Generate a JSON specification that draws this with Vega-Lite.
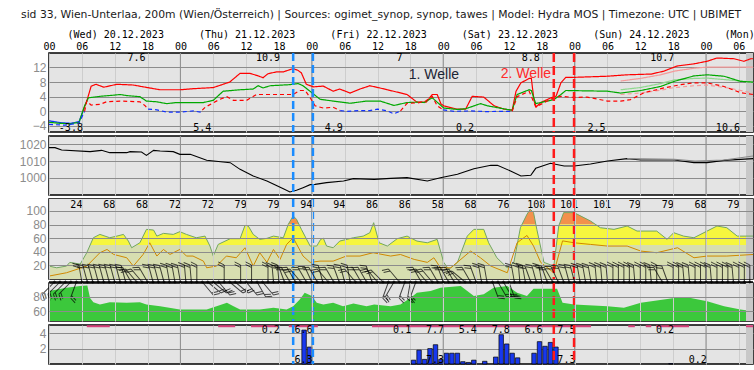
{
  "$schema": "https://vega.github.io/schema/vega-lite/v6.json",
  "autosize": {"type": "pad"},
  "padding": {"left": 18, "top": 8, "right": 0, "bottom": 0},
  "background": "#ffffff",
  "title": {
    "text": "sid 33, Wien-Unterlaa, 200m (Wien/Österreich) | Sources: ogimet_synop, synop, tawes | Model: Hydra MOS | Timezone: UTC | UBIMET",
    "anchor": "start", "frame": "group", "dx": -28, "offset": 10,
    "font": "DejaVu Sans", "fontSize": 10.8, "fontWeight": "normal", "color": "#1a1a1a"
  },
  "resolve": {"scale": {"color": "independent", "strokeDash": "independent"}},
  "config": {
    "view": {"fill": "#e4e4e4", "stroke": "#000000", "strokeWidth": 1.5},
    "legend": {"disable": true},
    "axis": {"labelOverlap": false, "labelSeparation": 0},
    "text": {"font": "DejaVu Sans Mono", "fontSize": 10, "color": "#000000"}
  },
  "spacing": 4,
  "bounds": "flush",
  "datasets": {
    "strip": [{"t": "2023-12-25T07:18Z", "t2": "2023-12-25T08:35Z"}],
    "days": [{"t": "2023-12-21T00:00Z"}, {"t": "2023-12-22T00:00Z"}, {"t": "2023-12-23T00:00Z"}, {"t": "2023-12-24T00:00Z"}, {"t": "2023-12-25T00:00Z"}],
    "ann": [
      {"t": "2023-12-21T20:36Z", "wave": "1"}, {"t": "2023-12-22T00:12Z", "wave": "1"},
      {"t": "2023-12-23T20:12Z", "wave": "2"}, {"t": "2023-12-23T23:54Z", "wave": "2"}
    ],
    "welle": [
      {"t": "2023-12-22T22:18Z", "label": "1. Welle", "wave": "1"},
      {"t": "2023-12-23T15:06Z", "label": "2. Welle", "wave": "2"}
    ],
    "tlab": [
      {"t": "2023-12-20T16:00Z", "label": "7.6", "kind": "max"},
      {"t": "2023-12-21T16:00Z", "label": "10.9", "kind": "max"},
      {"t": "2023-12-22T16:00Z", "label": "7", "kind": "max"},
      {"t": "2023-12-23T16:00Z", "label": "8.8", "kind": "max"},
      {"t": "2023-12-24T16:00Z", "label": "10.7", "kind": "max"},
      {"t": "2023-12-20T04:00Z", "label": "-3.8", "kind": "min"},
      {"t": "2023-12-21T04:00Z", "label": "5.4", "kind": "min"},
      {"t": "2023-12-22T04:00Z", "label": "4.9", "kind": "min"},
      {"t": "2023-12-23T04:00Z", "label": "0.2", "kind": "min"},
      {"t": "2023-12-24T04:00Z", "label": "2.5", "kind": "min"},
      {"t": "2023-12-25T04:00Z", "label": "10.6", "kind": "min"}
    ],
    "temp": [
      {"t": "2023-12-20T00:00Z", "v": -2.6, "k": "T<0", "g": "T1"},
      {"t": "2023-12-20T02:00Z", "v": -3.1, "k": "T<0", "g": "T1"},
      {"t": "2023-12-20T04:00Z", "v": -3.3, "k": "T<0", "g": "T1"},
      {"t": "2023-12-20T05:30Z", "v": -2.8, "k": "T<0", "g": "T1"},
      {"t": "2023-12-20T06:12Z", "v": 0, "k": "T<0", "g": "T1"},
      {"t": "2023-12-20T06:12Z", "v": 0, "k": "T", "g": "T2"},
      {"t": "2023-12-20T06:54Z", "v": 2.8, "k": "T", "g": "T2"},
      {"t": "2023-12-20T07:42Z", "v": 6.9, "k": "T", "g": "T2"},
      {"t": "2023-12-20T08:36Z", "v": 7.4, "k": "T", "g": "T2"},
      {"t": "2023-12-20T10:00Z", "v": 6.6, "k": "T", "g": "T2"},
      {"t": "2023-12-20T12:24Z", "v": 7.4, "k": "T", "g": "T2"},
      {"t": "2023-12-20T15:24Z", "v": 7.2, "k": "T", "g": "T2"},
      {"t": "2023-12-20T17:12Z", "v": 6.7, "k": "T", "g": "T2"},
      {"t": "2023-12-20T20:18Z", "v": 5.9, "k": "T", "g": "T2"},
      {"t": "2023-12-21T00:00Z", "v": 5.9, "k": "T", "g": "T2"},
      {"t": "2023-12-21T02:24Z", "v": 6.2, "k": "T", "g": "T2"},
      {"t": "2023-12-21T06:00Z", "v": 6.5, "k": "T", "g": "T2"},
      {"t": "2023-12-21T07:48Z", "v": 7.4, "k": "T", "g": "T2"},
      {"t": "2023-12-21T09:00Z", "v": 8.0, "k": "T", "g": "T2"},
      {"t": "2023-12-21T10:54Z", "v": 10.4, "k": "T", "g": "T2"},
      {"t": "2023-12-21T12:42Z", "v": 10.4, "k": "T", "g": "T2"},
      {"t": "2023-12-21T14:12Z", "v": 9.7, "k": "T", "g": "T2"},
      {"t": "2023-12-21T15:06Z", "v": 9.2, "k": "T", "g": "T2"},
      {"t": "2023-12-21T16:00Z", "v": 10.3, "k": "T", "g": "T2"},
      {"t": "2023-12-21T17:36Z", "v": 10.8, "k": "T", "g": "T2"},
      {"t": "2023-12-21T18:48Z", "v": 10.8, "k": "T", "g": "T2"},
      {"t": "2023-12-21T20:36Z", "v": 11.7, "k": "T", "g": "T2"},
      {"t": "2023-12-21T21:30Z", "v": 11.2, "k": "T", "g": "T2"},
      {"t": "2023-12-21T22:06Z", "v": 10.5, "k": "T", "g": "T2"},
      {"t": "2023-12-21T23:00Z", "v": 7.4, "k": "T", "g": "T2"},
      {"t": "2023-12-22T00:18Z", "v": 6.7, "k": "T", "g": "T2"},
      {"t": "2023-12-22T02:06Z", "v": 6.9, "k": "T", "g": "T2"},
      {"t": "2023-12-22T03:54Z", "v": 5.5, "k": "T", "g": "T2"},
      {"t": "2023-12-22T05:06Z", "v": 6.1, "k": "T", "g": "T2"},
      {"t": "2023-12-22T07:00Z", "v": 5.0, "k": "T", "g": "T2"},
      {"t": "2023-12-22T08:48Z", "v": 6.1, "k": "T", "g": "T2"},
      {"t": "2023-12-22T10:36Z", "v": 7.0, "k": "T", "g": "T2"},
      {"t": "2023-12-22T12:24Z", "v": 6.4, "k": "T", "g": "T2"},
      {"t": "2023-12-22T13:48Z", "v": 5.9, "k": "T", "g": "T2"},
      {"t": "2023-12-22T17:24Z", "v": 4.6, "k": "T", "g": "T2"},
      {"t": "2023-12-22T19:12Z", "v": 2.5, "k": "T", "g": "T2"},
      {"t": "2023-12-22T20:54Z", "v": 2.5, "k": "T", "g": "T2"},
      {"t": "2023-12-22T22:00Z", "v": 4.6, "k": "T", "g": "T2"},
      {"t": "2023-12-22T22:54Z", "v": 4.6, "k": "T", "g": "T2"},
      {"t": "2023-12-22T23:36Z", "v": 2.0, "k": "T", "g": "T2"},
      {"t": "2023-12-23T00:06Z", "v": 1.5, "k": "T", "g": "T2"},
      {"t": "2023-12-23T02:30Z", "v": 0.6, "k": "T", "g": "T2"},
      {"t": "2023-12-23T04:06Z", "v": 0.6, "k": "T", "g": "T2"},
      {"t": "2023-12-23T05:18Z", "v": 4.1, "k": "T", "g": "T2"},
      {"t": "2023-12-23T07:24Z", "v": 3.9, "k": "T", "g": "T2"},
      {"t": "2023-12-23T09:18Z", "v": 1.5, "k": "T", "g": "T2"},
      {"t": "2023-12-23T11:06Z", "v": 0.6, "k": "T", "g": "T2"},
      {"t": "2023-12-23T12:36Z", "v": 0.3, "k": "T", "g": "T2"},
      {"t": "2023-12-23T13:18Z", "v": 5.5, "k": "T", "g": "T2"},
      {"t": "2023-12-23T14:12Z", "v": 7.8, "k": "T", "g": "T2"},
      {"t": "2023-12-23T15:42Z", "v": 9.0, "k": "T", "g": "T2"},
      {"t": "2023-12-23T16:06Z", "v": 9.0, "k": "T", "g": "T2"},
      {"t": "2023-12-23T16:36Z", "v": 2.8, "k": "T", "g": "T2"},
      {"t": "2023-12-23T17:00Z", "v": 1.2, "k": "T", "g": "T2"},
      {"t": "2023-12-23T17:48Z", "v": 2.4, "k": "T", "g": "T2"},
      {"t": "2023-12-23T19:42Z", "v": 3.7, "k": "T", "g": "T2"},
      {"t": "2023-12-23T20:36Z", "v": 4.1, "k": "T", "g": "T2"},
      {"t": "2023-12-23T21:30Z", "v": 7.8, "k": "T", "g": "T2"},
      {"t": "2023-12-23T22:24Z", "v": 9.3, "k": "T", "g": "T2"},
      {"t": "2023-12-23T23:54Z", "v": 9.3, "k": "T", "g": "T2"},
      {"t": "2023-12-24T05:54Z", "v": 9.6, "k": "T", "g": "T2"},
      {"t": "2023-12-24T09:36Z", "v": 10.0, "k": "T", "g": "T2"},
      {"t": "2023-12-24T14:00Z", "v": 10.2, "k": "T", "g": "T2"},
      {"t": "2023-12-24T16:18Z", "v": 11.0, "k": "T", "g": "T2"},
      {"t": "2023-12-24T18:42Z", "v": 12.4, "k": "T", "g": "T2"},
      {"t": "2023-12-24T21:48Z", "v": 13.0, "k": "T", "g": "T2"},
      {"t": "2023-12-25T00:12Z", "v": 13.7, "k": "T", "g": "T2"},
      {"t": "2023-12-25T02:00Z", "v": 14.6, "k": "T", "g": "T2"},
      {"t": "2023-12-25T05:06Z", "v": 14.4, "k": "T", "g": "T2"},
      {"t": "2023-12-25T06:54Z", "v": 13.7, "k": "T", "g": "T2"},
      {"t": "2023-12-25T08:12Z", "v": 14.4, "k": "T", "g": "T2"},
      {"t": "2023-12-25T08:35Z", "v": 14.4, "k": "T", "g": "T2"},
      {"t": "2023-12-20T00:00Z", "v": -3.0, "k": "Td", "g": "D"},
      {"t": "2023-12-20T02:00Z", "v": -3.3, "k": "Td", "g": "D"},
      {"t": "2023-12-20T04:00Z", "v": -3.4, "k": "Td", "g": "D"},
      {"t": "2023-12-20T05:30Z", "v": -3.0, "k": "Td", "g": "D"},
      {"t": "2023-12-20T06:30Z", "v": 1.5, "k": "Td", "g": "D"},
      {"t": "2023-12-20T07:12Z", "v": 3.7, "k": "Td", "g": "D"},
      {"t": "2023-12-20T09:18Z", "v": 4.1, "k": "Td", "g": "D"},
      {"t": "2023-12-20T11:42Z", "v": 4.4, "k": "Td", "g": "D"},
      {"t": "2023-12-20T13:00Z", "v": 4.6, "k": "Td", "g": "D"},
      {"t": "2023-12-20T14:12Z", "v": 4.3, "k": "Td", "g": "D"},
      {"t": "2023-12-20T16:36Z", "v": 4.0, "k": "Td", "g": "D"},
      {"t": "2023-12-20T17:48Z", "v": 2.8, "k": "Td", "g": "D"},
      {"t": "2023-12-20T19:42Z", "v": 2.6, "k": "Td", "g": "D"},
      {"t": "2023-12-20T21:30Z", "v": 2.1, "k": "Td", "g": "D"},
      {"t": "2023-12-20T23:18Z", "v": 2.4, "k": "Td", "g": "D"},
      {"t": "2023-12-21T04:12Z", "v": 2.4, "k": "Td", "g": "D"},
      {"t": "2023-12-21T06:00Z", "v": 3.0, "k": "Td", "g": "D"},
      {"t": "2023-12-21T07:48Z", "v": 5.5, "k": "Td", "g": "D"},
      {"t": "2023-12-21T10:54Z", "v": 5.9, "k": "Td", "g": "D"},
      {"t": "2023-12-21T13:18Z", "v": 6.1, "k": "Td", "g": "D"},
      {"t": "2023-12-21T14:12Z", "v": 7.0, "k": "Td", "g": "D"},
      {"t": "2023-12-21T15:06Z", "v": 6.4, "k": "Td", "g": "D"},
      {"t": "2023-12-21T16:24Z", "v": 7.0, "k": "Td", "g": "D"},
      {"t": "2023-12-21T20:00Z", "v": 7.3, "k": "Td", "g": "D"},
      {"t": "2023-12-21T21:30Z", "v": 7.6, "k": "Td", "g": "D"},
      {"t": "2023-12-21T22:24Z", "v": 7.0, "k": "Td", "g": "D"},
      {"t": "2023-12-22T00:00Z", "v": 5.1, "k": "Td", "g": "D"},
      {"t": "2023-12-22T01:30Z", "v": 3.3, "k": "Td", "g": "D"},
      {"t": "2023-12-22T03:54Z", "v": 2.8, "k": "Td", "g": "D"},
      {"t": "2023-12-22T07:00Z", "v": 2.2, "k": "Td", "g": "D"},
      {"t": "2023-12-22T10:00Z", "v": 2.8, "k": "Td", "g": "D"},
      {"t": "2023-12-22T12:30Z", "v": 2.8, "k": "Td", "g": "D"},
      {"t": "2023-12-22T15:00Z", "v": 1.6, "k": "Td", "g": "D"},
      {"t": "2023-12-22T17:24Z", "v": 2.4, "k": "Td", "g": "D"},
      {"t": "2023-12-22T19:18Z", "v": 2.5, "k": "Td", "g": "D"},
      {"t": "2023-12-22T20:30Z", "v": 2.4, "k": "Td", "g": "D"},
      {"t": "2023-12-22T22:00Z", "v": 3.7, "k": "Td", "g": "D"},
      {"t": "2023-12-22T22:54Z", "v": 2.5, "k": "Td", "g": "D"},
      {"t": "2023-12-23T00:06Z", "v": 0.9, "k": "Td", "g": "D"},
      {"t": "2023-12-23T02:36Z", "v": 0.5, "k": "Td", "g": "D"},
      {"t": "2023-12-23T04:06Z", "v": 0.7, "k": "Td", "g": "D"},
      {"t": "2023-12-23T06:48Z", "v": 2.1, "k": "Td", "g": "D"},
      {"t": "2023-12-23T08:06Z", "v": 1.5, "k": "Td", "g": "D"},
      {"t": "2023-12-23T11:42Z", "v": 0.5, "k": "Td", "g": "D"},
      {"t": "2023-12-23T12:36Z", "v": 0.3, "k": "Td", "g": "D"},
      {"t": "2023-12-23T13:30Z", "v": 4.6, "k": "Td", "g": "D"},
      {"t": "2023-12-23T15:42Z", "v": 5.9, "k": "Td", "g": "D"},
      {"t": "2023-12-23T16:06Z", "v": 5.7, "k": "Td", "g": "D"},
      {"t": "2023-12-23T16:54Z", "v": 2.1, "k": "Td", "g": "D"},
      {"t": "2023-12-23T19:00Z", "v": 2.8, "k": "Td", "g": "D"},
      {"t": "2023-12-23T20:12Z", "v": 3.2, "k": "Td", "g": "D"},
      {"t": "2023-12-23T21:30Z", "v": 4.6, "k": "Td", "g": "D"},
      {"t": "2023-12-23T22:24Z", "v": 5.7, "k": "Td", "g": "D"},
      {"t": "2023-12-24T06:00Z", "v": 5.5, "k": "Td", "g": "D"},
      {"t": "2023-12-24T08:24Z", "v": 5.0, "k": "Td", "g": "D"},
      {"t": "2023-12-24T12:06Z", "v": 5.7, "k": "Td", "g": "D"},
      {"t": "2023-12-24T15:42Z", "v": 6.8, "k": "Td", "g": "D"},
      {"t": "2023-12-24T18:12Z", "v": 8.2, "k": "Td", "g": "D"},
      {"t": "2023-12-24T21:48Z", "v": 9.7, "k": "Td", "g": "D"},
      {"t": "2023-12-25T00:12Z", "v": 10.0, "k": "Td", "g": "D"},
      {"t": "2023-12-25T03:18Z", "v": 9.6, "k": "Td", "g": "D"},
      {"t": "2023-12-25T06:18Z", "v": 8.2, "k": "Td", "g": "D"},
      {"t": "2023-12-25T08:35Z", "v": 8.0, "k": "Td", "g": "D"},
      {"t": "2023-12-20T00:00Z", "v": -3.6, "k": "Tg<0", "g": "G1"},
      {"t": "2023-12-20T03:00Z", "v": -3.8, "k": "Tg<0", "g": "G1"},
      {"t": "2023-12-20T05:30Z", "v": -3.2, "k": "Tg<0", "g": "G1"},
      {"t": "2023-12-20T06:30Z", "v": 0, "k": "Tg<0", "g": "G1"},
      {"t": "2023-12-20T06:30Z", "v": 0, "k": "Tg", "g": "G2"},
      {"t": "2023-12-20T06:54Z", "v": 2.8, "k": "Tg", "g": "G2"},
      {"t": "2023-12-20T07:42Z", "v": 1.7, "k": "Tg", "g": "G2"},
      {"t": "2023-12-20T09:18Z", "v": 1.9, "k": "Tg", "g": "G2"},
      {"t": "2023-12-20T10:30Z", "v": 2.6, "k": "Tg", "g": "G2"},
      {"t": "2023-12-20T13:00Z", "v": 2.8, "k": "Tg", "g": "G2"},
      {"t": "2023-12-20T16:36Z", "v": 2.6, "k": "Tg", "g": "G2"},
      {"t": "2023-12-20T17:30Z", "v": 1.6, "k": "Tg", "g": "G2"},
      {"t": "2023-12-20T18:06Z", "v": 0.6, "k": "Tg", "g": "G2"},
      {"t": "2023-12-20T18:06Z", "v": 0.6, "k": "Tg<0", "g": "G3"},
      {"t": "2023-12-20T19:42Z", "v": 0.4, "k": "Tg<0", "g": "G3"},
      {"t": "2023-12-20T21:30Z", "v": -0.2, "k": "Tg<0", "g": "G3"},
      {"t": "2023-12-21T00:00Z", "v": -0.2, "k": "Tg<0", "g": "G3"},
      {"t": "2023-12-21T02:24Z", "v": 0.1, "k": "Tg<0", "g": "G3"},
      {"t": "2023-12-21T03:36Z", "v": -0.2, "k": "Tg<0", "g": "G3"},
      {"t": "2023-12-21T04:00Z", "v": 0.3, "k": "Tg<0", "g": "G3"},
      {"t": "2023-12-21T04:00Z", "v": 0.3, "k": "Tg", "g": "G4"},
      {"t": "2023-12-21T04:30Z", "v": 1.1, "k": "Tg", "g": "G4"},
      {"t": "2023-12-21T07:12Z", "v": 3.3, "k": "Tg", "g": "G4"},
      {"t": "2023-12-21T08:30Z", "v": 4.0, "k": "Tg", "g": "G4"},
      {"t": "2023-12-21T09:42Z", "v": 3.0, "k": "Tg", "g": "G4"},
      {"t": "2023-12-21T12:06Z", "v": 3.0, "k": "Tg", "g": "G4"},
      {"t": "2023-12-21T13:54Z", "v": 4.6, "k": "Tg", "g": "G4"},
      {"t": "2023-12-21T20:36Z", "v": 4.6, "k": "Tg", "g": "G4"},
      {"t": "2023-12-21T21:48Z", "v": 5.7, "k": "Tg", "g": "G4"},
      {"t": "2023-12-21T22:48Z", "v": 5.7, "k": "Tg", "g": "G4"},
      {"t": "2023-12-21T23:42Z", "v": 3.7, "k": "Tg", "g": "G4"},
      {"t": "2023-12-22T00:36Z", "v": 1.5, "k": "Tg", "g": "G4"},
      {"t": "2023-12-22T02:06Z", "v": 0.9, "k": "Tg", "g": "G4"},
      {"t": "2023-12-22T03:54Z", "v": 1.1, "k": "Tg", "g": "G4"},
      {"t": "2023-12-22T05:12Z", "v": 0.2, "k": "Tg", "g": "G4"},
      {"t": "2023-12-22T05:12Z", "v": 0.2, "k": "Tg<0", "g": "G5"},
      {"t": "2023-12-22T06:24Z", "v": 0.0, "k": "Tg<0", "g": "G5"},
      {"t": "2023-12-22T08:48Z", "v": 0.2, "k": "Tg<0", "g": "G5"},
      {"t": "2023-12-22T10:36Z", "v": 0.2, "k": "Tg<0", "g": "G5"},
      {"t": "2023-12-22T12:00Z", "v": 0.6, "k": "Tg<0", "g": "G5"},
      {"t": "2023-12-22T13:48Z", "v": 0.1, "k": "Tg<0", "g": "G5"},
      {"t": "2023-12-22T15:00Z", "v": -0.7, "k": "Tg<0", "g": "G5"},
      {"t": "2023-12-22T16:12Z", "v": 0.1, "k": "Tg<0", "g": "G5"},
      {"t": "2023-12-22T16:12Z", "v": 0.1, "k": "Tg", "g": "G6"},
      {"t": "2023-12-22T17:24Z", "v": 2.2, "k": "Tg", "g": "G6"},
      {"t": "2023-12-22T19:18Z", "v": 2.3, "k": "Tg", "g": "G6"},
      {"t": "2023-12-22T20:48Z", "v": 2.8, "k": "Tg", "g": "G6"},
      {"t": "2023-12-22T22:00Z", "v": 4.1, "k": "Tg", "g": "G6"},
      {"t": "2023-12-22T22:54Z", "v": 1.5, "k": "Tg", "g": "G6"},
      {"t": "2023-12-23T00:00Z", "v": 0.4, "k": "Tg", "g": "G6"},
      {"t": "2023-12-23T00:00Z", "v": 0.4, "k": "Tg<0", "g": "G7"},
      {"t": "2023-12-23T02:00Z", "v": 0.0, "k": "Tg<0", "g": "G7"},
      {"t": "2023-12-23T05:00Z", "v": 0.1, "k": "Tg<0", "g": "G7"},
      {"t": "2023-12-23T08:00Z", "v": -0.1, "k": "Tg<0", "g": "G7"},
      {"t": "2023-12-23T10:00Z", "v": 0.0, "k": "Tg<0", "g": "G7"},
      {"t": "2023-12-23T12:36Z", "v": 0.0, "k": "Tg<0", "g": "G7"},
      {"t": "2023-12-23T12:36Z", "v": 0.0, "k": "Tg", "g": "G8"},
      {"t": "2023-12-23T13:30Z", "v": 4.0, "k": "Tg", "g": "G8"},
      {"t": "2023-12-23T15:42Z", "v": 5.5, "k": "Tg", "g": "G8"},
      {"t": "2023-12-23T16:54Z", "v": 1.2, "k": "Tg", "g": "G8"},
      {"t": "2023-12-23T19:00Z", "v": 2.8, "k": "Tg", "g": "G8"},
      {"t": "2023-12-23T20:12Z", "v": 3.7, "k": "Tg", "g": "G8"},
      {"t": "2023-12-23T21:30Z", "v": 4.1, "k": "Tg", "g": "G8"},
      {"t": "2023-12-23T23:54Z", "v": 3.8, "k": "Tg", "g": "G8"},
      {"t": "2023-12-24T02:18Z", "v": 3.9, "k": "Tg", "g": "G8"},
      {"t": "2023-12-24T06:00Z", "v": 2.8, "k": "Tg", "g": "G8"},
      {"t": "2023-12-24T08:24Z", "v": 2.8, "k": "Tg", "g": "G8"},
      {"t": "2023-12-24T10:12Z", "v": 3.2, "k": "Tg", "g": "G8"},
      {"t": "2023-12-24T12:42Z", "v": 5.1, "k": "Tg", "g": "G8"},
      {"t": "2023-12-24T16:18Z", "v": 6.4, "k": "Tg", "g": "G8"},
      {"t": "2023-12-24T19:24Z", "v": 7.3, "k": "Tg", "g": "G8"},
      {"t": "2023-12-24T21:48Z", "v": 7.8, "k": "Tg", "g": "G8"},
      {"t": "2023-12-25T00:12Z", "v": 7.8, "k": "Tg", "g": "G8"},
      {"t": "2023-12-25T03:18Z", "v": 6.8, "k": "Tg", "g": "G8"},
      {"t": "2023-12-25T06:18Z", "v": 5.1, "k": "Tg", "g": "G8"},
      {"t": "2023-12-25T08:35Z", "v": 4.6, "k": "Tg", "g": "G8"},
      {"t": "2023-12-24T08:24Z", "v": 8.3, "k": "T MOS", "g": "M1"},
      {"t": "2023-12-24T12:00Z", "v": 9.0, "k": "T MOS", "g": "M1"},
      {"t": "2023-12-24T15:42Z", "v": 10.0, "k": "T MOS", "g": "M1"},
      {"t": "2023-12-24T18:12Z", "v": 11.0, "k": "T MOS", "g": "M1"},
      {"t": "2023-12-24T21:48Z", "v": 11.8, "k": "T MOS", "g": "M1"},
      {"t": "2023-12-25T00:12Z", "v": 12.1, "k": "T MOS", "g": "M1"},
      {"t": "2023-12-25T04:00Z", "v": 12.1, "k": "T MOS", "g": "M1"},
      {"t": "2023-12-25T08:35Z", "v": 12.1, "k": "T MOS", "g": "M1"},
      {"t": "2023-12-24T08:24Z", "v": 5.9, "k": "Td MOS", "g": "M2"},
      {"t": "2023-12-24T12:00Z", "v": 6.5, "k": "Td MOS", "g": "M2"},
      {"t": "2023-12-24T15:42Z", "v": 7.6, "k": "Td MOS", "g": "M2"},
      {"t": "2023-12-24T18:12Z", "v": 8.6, "k": "Td MOS", "g": "M2"},
      {"t": "2023-12-24T21:48Z", "v": 9.0, "k": "Td MOS", "g": "M2"},
      {"t": "2023-12-25T00:12Z", "v": 9.1, "k": "Td MOS", "g": "M2"},
      {"t": "2023-12-25T04:00Z", "v": 8.6, "k": "Td MOS", "g": "M2"},
      {"t": "2023-12-25T08:35Z", "v": 8.0, "k": "Td MOS", "g": "M2"},
      {"t": "2023-12-24T08:24Z", "v": 4.6, "k": "Tg MOS", "g": "M3"},
      {"t": "2023-12-24T12:00Z", "v": 5.0, "k": "Tg MOS", "g": "M3"},
      {"t": "2023-12-24T15:42Z", "v": 5.8, "k": "Tg MOS", "g": "M3"},
      {"t": "2023-12-24T18:12Z", "v": 6.5, "k": "Tg MOS", "g": "M3"},
      {"t": "2023-12-24T21:48Z", "v": 7.0, "k": "Tg MOS", "g": "M3"},
      {"t": "2023-12-25T00:12Z", "v": 7.2, "k": "Tg MOS", "g": "M3"},
      {"t": "2023-12-25T04:00Z", "v": 6.4, "k": "Tg MOS", "g": "M3"},
      {"t": "2023-12-25T08:35Z", "v": 5.0, "k": "Tg MOS", "g": "M3"}
    ],
    "pres": [
      {"t": "2023-12-20T00:00Z", "v": 1018, "k": "P"},
      {"t": "2023-12-20T01:06Z", "v": 1018, "k": "P"},
      {"t": "2023-12-20T02:18Z", "v": 1016.6, "k": "P"},
      {"t": "2023-12-20T07:30Z", "v": 1015.6, "k": "P"},
      {"t": "2023-12-20T09:36Z", "v": 1016.4, "k": "P"},
      {"t": "2023-12-20T11:06Z", "v": 1015, "k": "P"},
      {"t": "2023-12-20T14:12Z", "v": 1015, "k": "P"},
      {"t": "2023-12-20T14:48Z", "v": 1015.6, "k": "P"},
      {"t": "2023-12-20T16:54Z", "v": 1015.4, "k": "P"},
      {"t": "2023-12-20T17:48Z", "v": 1013.4, "k": "P"},
      {"t": "2023-12-20T19:06Z", "v": 1016.4, "k": "P"},
      {"t": "2023-12-20T20:18Z", "v": 1016, "k": "P"},
      {"t": "2023-12-20T22:42Z", "v": 1015.6, "k": "P"},
      {"t": "2023-12-20T23:54Z", "v": 1014, "k": "P"},
      {"t": "2023-12-21T01:48Z", "v": 1014, "k": "P"},
      {"t": "2023-12-21T04:48Z", "v": 1010.4, "k": "P"},
      {"t": "2023-12-21T07:48Z", "v": 1009.4, "k": "P"},
      {"t": "2023-12-21T09:06Z", "v": 1009, "k": "P"},
      {"t": "2023-12-21T10:54Z", "v": 1005, "k": "P"},
      {"t": "2023-12-21T13:18Z", "v": 1001, "k": "P"},
      {"t": "2023-12-21T15:48Z", "v": 998, "k": "P"},
      {"t": "2023-12-21T18:48Z", "v": 993.4, "k": "P"},
      {"t": "2023-12-21T20:00Z", "v": 991.4, "k": "P"},
      {"t": "2023-12-21T21:12Z", "v": 992.4, "k": "P"},
      {"t": "2023-12-21T22:24Z", "v": 994, "k": "P"},
      {"t": "2023-12-21T23:42Z", "v": 995.8, "k": "P"},
      {"t": "2023-12-22T00:36Z", "v": 996, "k": "P"},
      {"t": "2023-12-22T02:42Z", "v": 997, "k": "P"},
      {"t": "2023-12-22T05:48Z", "v": 998, "k": "P"},
      {"t": "2023-12-22T07:36Z", "v": 999.4, "k": "P"},
      {"t": "2023-12-22T11:24Z", "v": 999, "k": "P"},
      {"t": "2023-12-22T14:24Z", "v": 999.6, "k": "P"},
      {"t": "2023-12-22T17:24Z", "v": 1000, "k": "P"},
      {"t": "2023-12-22T21:06Z", "v": 998, "k": "P"},
      {"t": "2023-12-22T23:30Z", "v": 1000, "k": "P"},
      {"t": "2023-12-23T02:36Z", "v": 1002, "k": "P"},
      {"t": "2023-12-23T05:36Z", "v": 1005.4, "k": "P"},
      {"t": "2023-12-23T08:42Z", "v": 1007.4, "k": "P"},
      {"t": "2023-12-23T09:54Z", "v": 1007.4, "k": "P"},
      {"t": "2023-12-23T12:18Z", "v": 1004, "k": "P"},
      {"t": "2023-12-23T14:12Z", "v": 1001, "k": "P"},
      {"t": "2023-12-23T16:00Z", "v": 1001.4, "k": "P"},
      {"t": "2023-12-23T16:54Z", "v": 1005.6, "k": "P"},
      {"t": "2023-12-23T19:36Z", "v": 1008.6, "k": "P"},
      {"t": "2023-12-23T22:06Z", "v": 1007, "k": "P"},
      {"t": "2023-12-23T23:54Z", "v": 1007, "k": "P"},
      {"t": "2023-12-24T02:54Z", "v": 1008.2, "k": "P"},
      {"t": "2023-12-24T06:00Z", "v": 1010, "k": "P"},
      {"t": "2023-12-24T09:36Z", "v": 1011.4, "k": "P"},
      {"t": "2023-12-24T12:06Z", "v": 1010.6, "k": "P"},
      {"t": "2023-12-24T18:12Z", "v": 1010.6, "k": "P"},
      {"t": "2023-12-24T21:48Z", "v": 1009, "k": "P"},
      {"t": "2023-12-25T00:12Z", "v": 1009, "k": "P"},
      {"t": "2023-12-25T03:18Z", "v": 1010.4, "k": "P"},
      {"t": "2023-12-25T08:35Z", "v": 1011.4, "k": "P"},
      {"t": "2023-12-24T09:36Z", "v": 1011.4, "k": "P MOS"},
      {"t": "2023-12-24T18:12Z", "v": 1011, "k": "P MOS"},
      {"t": "2023-12-24T22:00Z", "v": 1010, "k": "P MOS"},
      {"t": "2023-12-25T03:18Z", "v": 1010.6, "k": "P MOS"},
      {"t": "2023-12-25T08:35Z", "v": 1013, "k": "P MOS"}
    ],
    "bands": [
      {"lo": 80, "hi": 117.5, "b": "high"},
      {"lo": 50, "hi": 80, "b": "mid"},
      {"lo": 0, "hi": 50, "b": "low"}
    ],
    "gust": [
      {"t": "2023-12-20T00:00Z", "v": 19}, {"t": "2023-12-20T01:24Z", "v": 16.5},
      {"t": "2023-12-20T03:12Z", "v": 19}, {"t": "2023-12-20T03:48Z", "v": 24.4},
      {"t": "2023-12-20T05:42Z", "v": 21.9}, {"t": "2023-12-20T06:54Z", "v": 38.6},
      {"t": "2023-12-20T08:06Z", "v": 60.6}, {"t": "2023-12-20T09:18Z", "v": 65.5},
      {"t": "2023-12-20T11:06Z", "v": 60.6}, {"t": "2023-12-20T12:24Z", "v": 63},
      {"t": "2023-12-20T13:36Z", "v": 65.5}, {"t": "2023-12-20T14:30Z", "v": 55.7},
      {"t": "2023-12-20T15:06Z", "v": 45.9}, {"t": "2023-12-20T16:36Z", "v": 53.2},
      {"t": "2023-12-20T17:48Z", "v": 72.9}, {"t": "2023-12-20T19:06Z", "v": 71.9},
      {"t": "2023-12-20T19:42Z", "v": 63}, {"t": "2023-12-20T20:54Z", "v": 67},
      {"t": "2023-12-20T22:42Z", "v": 65.5}, {"t": "2023-12-20T23:54Z", "v": 69.5},
      {"t": "2023-12-21T01:06Z", "v": 65.5}, {"t": "2023-12-21T02:54Z", "v": 60.6},
      {"t": "2023-12-21T04:30Z", "v": 63}, {"t": "2023-12-21T05:24Z", "v": 48.4},
      {"t": "2023-12-21T06:00Z", "v": 33.7}, {"t": "2023-12-21T06:54Z", "v": 50.8},
      {"t": "2023-12-21T09:06Z", "v": 59.2}, {"t": "2023-12-21T10:54Z", "v": 59.2},
      {"t": "2023-12-21T11:48Z", "v": 78.8}, {"t": "2023-12-21T12:24Z", "v": 77.8},
      {"t": "2023-12-21T13:18Z", "v": 65.5}, {"t": "2023-12-21T14:30Z", "v": 58.2},
      {"t": "2023-12-21T15:48Z", "v": 59.7}, {"t": "2023-12-21T17:00Z", "v": 63},
      {"t": "2023-12-21T18:48Z", "v": 60.6}, {"t": "2023-12-21T19:42Z", "v": 80.3},
      {"t": "2023-12-21T20:36Z", "v": 92.6}, {"t": "2023-12-21T21:12Z", "v": 87.7},
      {"t": "2023-12-21T22:06Z", "v": 72.9}, {"t": "2023-12-21T23:42Z", "v": 48.4},
      {"t": "2023-12-22T00:54Z", "v": 48.4}, {"t": "2023-12-22T01:36Z", "v": 58},
      {"t": "2023-12-22T02:06Z", "v": 60}, {"t": "2023-12-22T02:42Z", "v": 48.4},
      {"t": "2023-12-22T03:54Z", "v": 45.9}, {"t": "2023-12-22T05:06Z", "v": 55.7},
      {"t": "2023-12-22T07:36Z", "v": 60.6}, {"t": "2023-12-22T09:24Z", "v": 63},
      {"t": "2023-12-22T10:36Z", "v": 68}, {"t": "2023-12-22T11:18Z", "v": 82.7},
      {"t": "2023-12-22T12:18Z", "v": 53.2}, {"t": "2023-12-22T13:48Z", "v": 48.4},
      {"t": "2023-12-22T15:36Z", "v": 59.2}, {"t": "2023-12-22T17:24Z", "v": 63},
      {"t": "2023-12-22T19:12Z", "v": 55.7}, {"t": "2023-12-22T21:06Z", "v": 53.2},
      {"t": "2023-12-22T22:54Z", "v": 58.2}, {"t": "2023-12-23T00:06Z", "v": 24.4},
      {"t": "2023-12-23T01:00Z", "v": 14.1}, {"t": "2023-12-23T02:36Z", "v": 24.4},
      {"t": "2023-12-23T04:24Z", "v": 63}, {"t": "2023-12-23T05:36Z", "v": 72.9},
      {"t": "2023-12-23T07:24Z", "v": 72.9}, {"t": "2023-12-23T08:18Z", "v": 53.2},
      {"t": "2023-12-23T09:48Z", "v": 31.2}, {"t": "2023-12-23T11:42Z", "v": 16.5},
      {"t": "2023-12-23T12:54Z", "v": 24.4}, {"t": "2023-12-23T14:06Z", "v": 75.3},
      {"t": "2023-12-23T15:18Z", "v": 95}, {"t": "2023-12-23T15:54Z", "v": 102.4},
      {"t": "2023-12-23T16:30Z", "v": 97.5}, {"t": "2023-12-23T17:06Z", "v": 72.9},
      {"t": "2023-12-23T18:24Z", "v": 24.4}, {"t": "2023-12-23T20:12Z", "v": 19},
      {"t": "2023-12-23T21:06Z", "v": 77.8}, {"t": "2023-12-23T22:00Z", "v": 97.5},
      {"t": "2023-12-23T23:54Z", "v": 97.5}, {"t": "2023-12-24T02:54Z", "v": 85.2},
      {"t": "2023-12-24T04:42Z", "v": 75.3}, {"t": "2023-12-24T07:12Z", "v": 72.9},
      {"t": "2023-12-24T09:36Z", "v": 77.8}, {"t": "2023-12-24T11:24Z", "v": 70.4},
      {"t": "2023-12-24T15:00Z", "v": 70.4}, {"t": "2023-12-24T16:54Z", "v": 58.2},
      {"t": "2023-12-24T18:06Z", "v": 68}, {"t": "2023-12-24T19:54Z", "v": 63},
      {"t": "2023-12-24T21:48Z", "v": 60.6}, {"t": "2023-12-25T00:12Z", "v": 70.4},
      {"t": "2023-12-25T02:00Z", "v": 77.8}, {"t": "2023-12-25T03:48Z", "v": 75.3},
      {"t": "2023-12-25T05:42Z", "v": 63}, {"t": "2023-12-25T08:35Z", "v": 63}
    ],
    "wind": [
      {"t": "2023-12-20T00:00Z", "v": 4.3}, {"t": "2023-12-20T03:12Z", "v": 9.2},
      {"t": "2023-12-20T06:54Z", "v": 19}, {"t": "2023-12-20T09:18Z", "v": 38.6},
      {"t": "2023-12-20T10:36Z", "v": 43.4}, {"t": "2023-12-20T11:48Z", "v": 36.1},
      {"t": "2023-12-20T14:12Z", "v": 31.2}, {"t": "2023-12-20T15:24Z", "v": 19},
      {"t": "2023-12-20T17:12Z", "v": 36.1}, {"t": "2023-12-20T18:24Z", "v": 53.2},
      {"t": "2023-12-20T19:42Z", "v": 33.7}, {"t": "2023-12-20T20:54Z", "v": 43.4},
      {"t": "2023-12-20T22:06Z", "v": 36.1}, {"t": "2023-12-20T23:54Z", "v": 43.4},
      {"t": "2023-12-21T01:06Z", "v": 33.7}, {"t": "2023-12-21T02:18Z", "v": 33.7},
      {"t": "2023-12-21T04:12Z", "v": 26.3}, {"t": "2023-12-21T04:48Z", "v": 16.5},
      {"t": "2023-12-21T06:36Z", "v": 19}, {"t": "2023-12-21T08:24Z", "v": 33.7},
      {"t": "2023-12-21T10:12Z", "v": 31.2}, {"t": "2023-12-21T11:48Z", "v": 45.9},
      {"t": "2023-12-21T13:18Z", "v": 19}, {"t": "2023-12-21T14:30Z", "v": 38.6},
      {"t": "2023-12-21T15:48Z", "v": 24.4}, {"t": "2023-12-21T17:00Z", "v": 43.4},
      {"t": "2023-12-21T18:12Z", "v": 28.8}, {"t": "2023-12-21T19:24Z", "v": 50.8},
      {"t": "2023-12-21T20:36Z", "v": 60.6}, {"t": "2023-12-21T22:24Z", "v": 33.7},
      {"t": "2023-12-21T23:42Z", "v": 24.4}, {"t": "2023-12-22T01:30Z", "v": 26.3},
      {"t": "2023-12-22T03:54Z", "v": 26.3}, {"t": "2023-12-22T06:18Z", "v": 33.7},
      {"t": "2023-12-22T08:48Z", "v": 33.7}, {"t": "2023-12-22T11:12Z", "v": 38.6},
      {"t": "2023-12-22T14:24Z", "v": 33.7}, {"t": "2023-12-22T16:12Z", "v": 36},
      {"t": "2023-12-22T18:42Z", "v": 28.8}, {"t": "2023-12-22T21:06Z", "v": 24.4},
      {"t": "2023-12-22T22:18Z", "v": 31.2}, {"t": "2023-12-22T23:30Z", "v": 16.5},
      {"t": "2023-12-23T01:24Z", "v": 16.5}, {"t": "2023-12-23T05:00Z", "v": 41},
      {"t": "2023-12-23T06:48Z", "v": 31.2}, {"t": "2023-12-23T08:42Z", "v": 19},
      {"t": "2023-12-23T11:42Z", "v": 9.2}, {"t": "2023-12-23T13:30Z", "v": 53.2},
      {"t": "2023-12-23T15:18Z", "v": 64}, {"t": "2023-12-23T16:30Z", "v": 48.4},
      {"t": "2023-12-23T17:48Z", "v": 24.4}, {"t": "2023-12-23T20:12Z", "v": 9.2},
      {"t": "2023-12-23T21:48Z", "v": 56}, {"t": "2023-12-23T23:54Z", "v": 53.2},
      {"t": "2023-12-24T02:54Z", "v": 50.8}, {"t": "2023-12-24T06:00Z", "v": 48.4},
      {"t": "2023-12-24T09:36Z", "v": 48.4}, {"t": "2023-12-24T12:06Z", "v": 41},
      {"t": "2023-12-24T15:00Z", "v": 38.6}, {"t": "2023-12-24T18:48Z", "v": 45.9},
      {"t": "2023-12-24T21:48Z", "v": 31.2}, {"t": "2023-12-25T00:12Z", "v": 33.7},
      {"t": "2023-12-25T03:48Z", "v": 33.7}, {"t": "2023-12-25T08:35Z", "v": 36}
    ],
    "gmax": [
      {"t": "2023-12-20T05:00Z", "label": "24"}, {"t": "2023-12-20T11:00Z", "label": "68"},
      {"t": "2023-12-20T17:00Z", "label": "68"}, {"t": "2023-12-20T23:00Z", "label": "72"},
      {"t": "2023-12-21T05:00Z", "label": "72"}, {"t": "2023-12-21T11:00Z", "label": "79"},
      {"t": "2023-12-21T17:00Z", "label": "79"}, {"t": "2023-12-21T23:00Z", "label": "94"},
      {"t": "2023-12-22T05:00Z", "label": "94"}, {"t": "2023-12-22T11:00Z", "label": "86"},
      {"t": "2023-12-22T17:00Z", "label": "86"}, {"t": "2023-12-22T23:00Z", "label": "58"},
      {"t": "2023-12-23T05:00Z", "label": "68"}, {"t": "2023-12-23T11:00Z", "label": "76"},
      {"t": "2023-12-23T17:00Z", "label": "108"}, {"t": "2023-12-23T23:00Z", "label": "101"},
      {"t": "2023-12-24T05:00Z", "label": "101"}, {"t": "2023-12-24T11:00Z", "label": "79"},
      {"t": "2023-12-24T17:00Z", "label": "79"}, {"t": "2023-12-24T23:00Z", "label": "68"},
      {"t": "2023-12-25T05:00Z", "label": "79"}
    ],
    "rh": [
      {"t": "2023-12-20T00:00Z", "v": 88}, {"t": "2023-12-20T03:12Z", "v": 92.6},
      {"t": "2023-12-20T05:42Z", "v": 94.9}, {"t": "2023-12-20T07:00Z", "v": 95.8},
      {"t": "2023-12-20T07:30Z", "v": 78.3}, {"t": "2023-12-20T08:06Z", "v": 72.3},
      {"t": "2023-12-20T09:18Z", "v": 69.1}, {"t": "2023-12-20T11:06Z", "v": 72.3},
      {"t": "2023-12-20T14:12Z", "v": 71.4}, {"t": "2023-12-20T16:36Z", "v": 72.3},
      {"t": "2023-12-20T17:48Z", "v": 69.1}, {"t": "2023-12-20T20:18Z", "v": 66.8},
      {"t": "2023-12-20T23:54Z", "v": 62.1}, {"t": "2023-12-21T04:48Z", "v": 62.1},
      {"t": "2023-12-21T06:36Z", "v": 66.8}, {"t": "2023-12-21T08:30Z", "v": 71.4},
      {"t": "2023-12-21T09:42Z", "v": 66.8}, {"t": "2023-12-21T10:54Z", "v": 62.1},
      {"t": "2023-12-21T14:30Z", "v": 62.1}, {"t": "2023-12-21T17:00Z", "v": 64.4},
      {"t": "2023-12-21T19:24Z", "v": 62.1}, {"t": "2023-12-21T20:36Z", "v": 66.8},
      {"t": "2023-12-21T21:48Z", "v": 76.1}, {"t": "2023-12-21T22:42Z", "v": 85.6},
      {"t": "2023-12-22T00:00Z", "v": 81}, {"t": "2023-12-22T00:54Z", "v": 71.4},
      {"t": "2023-12-22T02:06Z", "v": 69.1}, {"t": "2023-12-22T03:54Z", "v": 71.4},
      {"t": "2023-12-22T05:42Z", "v": 66.8}, {"t": "2023-12-22T07:36Z", "v": 70.5},
      {"t": "2023-12-22T10:00Z", "v": 66.8}, {"t": "2023-12-22T11:24Z", "v": 69.1},
      {"t": "2023-12-22T14:24Z", "v": 66.8}, {"t": "2023-12-22T16:12Z", "v": 69.1},
      {"t": "2023-12-22T18:00Z", "v": 78.3}, {"t": "2023-12-22T19:12Z", "v": 85.6},
      {"t": "2023-12-22T21:42Z", "v": 88}, {"t": "2023-12-22T23:30Z", "v": 92.6},
      {"t": "2023-12-23T03:12Z", "v": 94.9}, {"t": "2023-12-23T04:24Z", "v": 88},
      {"t": "2023-12-23T05:36Z", "v": 81}, {"t": "2023-12-23T07:24Z", "v": 83.3},
      {"t": "2023-12-23T09:12Z", "v": 92.6}, {"t": "2023-12-23T11:42Z", "v": 94.9},
      {"t": "2023-12-23T13:30Z", "v": 85.6}, {"t": "2023-12-23T15:18Z", "v": 81},
      {"t": "2023-12-23T16:30Z", "v": 91.1}, {"t": "2023-12-23T20:48Z", "v": 91.1},
      {"t": "2023-12-23T21:48Z", "v": 71.4}, {"t": "2023-12-23T23:54Z", "v": 69.1},
      {"t": "2023-12-24T06:00Z", "v": 66.8}, {"t": "2023-12-24T09:00Z", "v": 64.4},
      {"t": "2023-12-24T12:06Z", "v": 71.4}, {"t": "2023-12-24T18:12Z", "v": 78.3},
      {"t": "2023-12-24T21:12Z", "v": 78.3}, {"t": "2023-12-25T00:12Z", "v": 73.8},
      {"t": "2023-12-25T03:18Z", "v": 66.8}, {"t": "2023-12-25T06:18Z", "v": 62.1},
      {"t": "2023-12-25T08:35Z", "v": 59.8}
    ],
    "barbs": [
      {"t": "2023-12-20T01:00Z", "d": 225}, {"t": "2023-12-20T02:00Z", "d": 225}, {"t": "2023-12-20T03:00Z", "d": 225},
      {"t": "2023-12-20T04:00Z", "d": 225}, {"t": "2023-12-20T05:00Z", "d": 200}, {"t": "2023-12-20T06:00Z", "d": 350},
      {"t": "2023-12-20T07:00Z", "d": 345}, {"t": "2023-12-20T08:00Z", "d": 345}, {"t": "2023-12-20T09:00Z", "d": 345},
      {"t": "2023-12-20T10:00Z", "d": 345}, {"t": "2023-12-20T11:00Z", "d": 345}, {"t": "2023-12-20T12:00Z", "d": 345},
      {"t": "2023-12-20T13:00Z", "d": 345}, {"t": "2023-12-20T14:00Z", "d": 345}, {"t": "2023-12-20T15:00Z", "d": 330},
      {"t": "2023-12-20T16:00Z", "d": 320}, {"t": "2023-12-20T17:00Z", "d": 320}, {"t": "2023-12-20T18:00Z", "d": 330},
      {"t": "2023-12-20T19:00Z", "d": 345}, {"t": "2023-12-20T20:00Z", "d": 345}, {"t": "2023-12-20T21:00Z", "d": 345},
      {"t": "2023-12-20T22:00Z", "d": 350}, {"t": "2023-12-20T23:00Z", "d": 350}, {"t": "2023-12-21T00:00Z", "d": 350},
      {"t": "2023-12-21T01:00Z", "d": 355}, {"t": "2023-12-21T02:00Z", "d": 355}, {"t": "2023-12-21T03:00Z", "d": 0},
      {"t": "2023-12-21T04:00Z", "d": 140}, {"t": "2023-12-21T05:00Z", "d": 130}, {"t": "2023-12-21T06:00Z", "d": 130},
      {"t": "2023-12-21T07:00Z", "d": 140}, {"t": "2023-12-21T08:00Z", "d": 0}, {"t": "2023-12-21T09:00Z", "d": 130},
      {"t": "2023-12-21T10:00Z", "d": 130}, {"t": "2023-12-21T11:00Z", "d": 0}, {"t": "2023-12-21T12:00Z", "d": 140},
      {"t": "2023-12-21T13:00Z", "d": 0}, {"t": "2023-12-21T14:00Z", "d": 150}, {"t": "2023-12-21T15:00Z", "d": 140},
      {"t": "2023-12-21T16:00Z", "d": 0}, {"t": "2023-12-21T17:00Z", "d": 355}, {"t": "2023-12-21T18:00Z", "d": 355},
      {"t": "2023-12-21T19:00Z", "d": 340}, {"t": "2023-12-21T20:00Z", "d": 330}, {"t": "2023-12-21T21:00Z", "d": 330},
      {"t": "2023-12-21T22:00Z", "d": 320}, {"t": "2023-12-21T23:00Z", "d": 330}, {"t": "2023-12-22T00:00Z", "d": 335},
      {"t": "2023-12-22T01:00Z", "d": 330}, {"t": "2023-12-22T02:00Z", "d": 345}, {"t": "2023-12-22T03:00Z", "d": 320},
      {"t": "2023-12-22T04:00Z", "d": 330}, {"t": "2023-12-22T05:00Z", "d": 340}, {"t": "2023-12-22T06:00Z", "d": 345},
      {"t": "2023-12-22T07:00Z", "d": 350}, {"t": "2023-12-22T08:00Z", "d": 320}, {"t": "2023-12-22T09:00Z", "d": 330},
      {"t": "2023-12-22T10:00Z", "d": 330}, {"t": "2023-12-22T11:00Z", "d": 340}, {"t": "2023-12-22T12:00Z", "d": 320},
      {"t": "2023-12-22T13:00Z", "d": 315}, {"t": "2023-12-22T14:00Z", "d": 200}, {"t": "2023-12-22T15:00Z", "d": 210},
      {"t": "2023-12-22T16:00Z", "d": 320}, {"t": "2023-12-22T17:00Z", "d": 200}, {"t": "2023-12-22T18:00Z", "d": 190},
      {"t": "2023-12-22T19:00Z", "d": 200}, {"t": "2023-12-22T20:00Z", "d": 330}, {"t": "2023-12-22T21:00Z", "d": 320},
      {"t": "2023-12-22T22:00Z", "d": 320}, {"t": "2023-12-22T23:00Z", "d": 330}, {"t": "2023-12-23T00:00Z", "d": 340},
      {"t": "2023-12-23T01:00Z", "d": 330}, {"t": "2023-12-23T02:00Z", "d": 330}, {"t": "2023-12-23T03:00Z", "d": 320},
      {"t": "2023-12-23T04:00Z", "d": 310}, {"t": "2023-12-23T05:00Z", "d": 330}, {"t": "2023-12-23T06:00Z", "d": 340},
      {"t": "2023-12-23T07:00Z", "d": 350}, {"t": "2023-12-23T08:00Z", "d": 350}, {"t": "2023-12-23T09:00Z", "d": 160},
      {"t": "2023-12-23T10:00Z", "d": 150}, {"t": "2023-12-23T11:00Z", "d": 150}, {"t": "2023-12-23T12:00Z", "d": 160},
      {"t": "2023-12-23T13:00Z", "d": 350}, {"t": "2023-12-23T14:00Z", "d": 355}, {"t": "2023-12-23T15:00Z", "d": 350},
      {"t": "2023-12-23T16:00Z", "d": 340}, {"t": "2023-12-23T17:00Z", "d": 345}, {"t": "2023-12-23T18:00Z", "d": 350},
      {"t": "2023-12-23T19:00Z", "d": 340}, {"t": "2023-12-23T20:00Z", "d": 330}, {"t": "2023-12-23T21:00Z", "d": 335},
      {"t": "2023-12-23T22:00Z", "d": 340}, {"t": "2023-12-23T23:00Z", "d": 345}, {"t": "2023-12-24T00:00Z", "d": 345},
      {"t": "2023-12-24T01:00Z", "d": 350}, {"t": "2023-12-24T02:00Z", "d": 350}, {"t": "2023-12-24T03:00Z", "d": 350},
      {"t": "2023-12-24T04:00Z", "d": 355}, {"t": "2023-12-24T05:00Z", "d": 355}, {"t": "2023-12-24T06:00Z", "d": 355},
      {"t": "2023-12-24T07:00Z", "d": 0}, {"t": "2023-12-24T08:00Z", "d": 0}, {"t": "2023-12-24T09:00Z", "d": 0},
      {"t": "2023-12-24T10:00Z", "d": 0}, {"t": "2023-12-24T11:00Z", "d": 355}, {"t": "2023-12-24T12:00Z", "d": 0},
      {"t": "2023-12-24T13:00Z", "d": 0}, {"t": "2023-12-24T14:00Z", "d": 355}, {"t": "2023-12-24T15:00Z", "d": 0},
      {"t": "2023-12-24T16:00Z", "d": 330}, {"t": "2023-12-24T17:00Z", "d": 340}, {"t": "2023-12-24T18:00Z", "d": 0},
      {"t": "2023-12-24T19:00Z", "d": 0}, {"t": "2023-12-24T20:00Z", "d": 355}, {"t": "2023-12-24T21:00Z", "d": 355},
      {"t": "2023-12-24T22:00Z", "d": 0}, {"t": "2023-12-24T23:00Z", "d": 0}, {"t": "2023-12-25T00:00Z", "d": 0},
      {"t": "2023-12-25T01:00Z", "d": 355}, {"t": "2023-12-25T02:00Z", "d": 0}, {"t": "2023-12-25T03:00Z", "d": 0},
      {"t": "2023-12-25T04:00Z", "d": 0}, {"t": "2023-12-25T05:00Z", "d": 355}, {"t": "2023-12-25T06:00Z", "d": 0},
      {"t": "2023-12-25T07:00Z", "d": 0}, {"t": "2023-12-25T08:00Z", "d": 0}
    ],
    "pr": [
      {"t": "2023-12-21T22:00Z", "v": 4.4}, {"t": "2023-12-21T23:00Z", "v": 2.2},
      {"t": "2023-12-22T18:00Z", "v": 0.5}, {"t": "2023-12-22T19:00Z", "v": 1.8},
      {"t": "2023-12-22T20:00Z", "v": 0.6}, {"t": "2023-12-22T21:00Z", "v": 2.0},
      {"t": "2023-12-22T22:00Z", "v": 2.5}, {"t": "2023-12-22T23:00Z", "v": 0.6},
      {"t": "2023-12-23T00:00Z", "v": 1.4}, {"t": "2023-12-23T01:00Z", "v": 1.4},
      {"t": "2023-12-23T02:00Z", "v": 1.4}, {"t": "2023-12-23T03:00Z", "v": 0.3},
      {"t": "2023-12-23T04:00Z", "v": 0.2}, {"t": "2023-12-23T05:00Z", "v": 0.5},
      {"t": "2023-12-23T07:00Z", "v": 0.35}, {"t": "2023-12-23T09:00Z", "v": 0.9},
      {"t": "2023-12-23T10:00Z", "v": 3.8}, {"t": "2023-12-23T11:00Z", "v": 2.6},
      {"t": "2023-12-23T12:00Z", "v": 1.4}, {"t": "2023-12-23T13:00Z", "v": 0.8},
      {"t": "2023-12-23T16:00Z", "v": 1.4}, {"t": "2023-12-23T17:00Z", "v": 2.9},
      {"t": "2023-12-23T18:00Z", "v": 2.3}, {"t": "2023-12-23T19:00Z", "v": 2.8},
      {"t": "2023-12-23T20:00Z", "v": 2.2}, {"t": "2023-12-24T17:00Z", "v": 0.05}
    ],
    "prlab": [
      {"t": "2023-12-21T16:30Z", "label": "0.2", "row": "top"},
      {"t": "2023-12-21T22:30Z", "label": "6.6", "row": "top"},
      {"t": "2023-12-22T16:30Z", "label": "0.1", "row": "top"},
      {"t": "2023-12-22T22:30Z", "label": "7.7", "row": "top"},
      {"t": "2023-12-23T04:30Z", "label": "5.4", "row": "top"},
      {"t": "2023-12-23T10:30Z", "label": "7.8", "row": "top"},
      {"t": "2023-12-23T16:30Z", "label": "6.6", "row": "top"},
      {"t": "2023-12-23T22:30Z", "label": "7.5", "row": "top"},
      {"t": "2023-12-24T16:30Z", "label": "0.2", "row": "top"},
      {"t": "2023-12-21T22:30Z", "label": "6.3", "row": "bottom"},
      {"t": "2023-12-22T22:30Z", "label": "7.3", "row": "bottom"},
      {"t": "2023-12-23T22:30Z", "label": "7.3", "row": "bottom"},
      {"t": "2023-12-24T22:30Z", "label": "0.2", "row": "bottom"}
    ],
    "prob": [
      {"t": "2023-12-20T06:54Z", "t2": "2023-12-20T11:06Z"},
      {"t": "2023-12-21T06:54Z", "t2": "2023-12-21T10:00Z"},
      {"t": "2023-12-21T12:54Z", "t2": "2023-12-21T17:48Z"},
      {"t": "2023-12-21T19:48Z", "t2": "2023-12-22T01:06Z"},
      {"t": "2023-12-22T11:00Z", "t2": "2023-12-24T03:00Z"},
      {"t": "2023-12-24T09:48Z", "t2": "2023-12-24T11:00Z"},
      {"t": "2023-12-24T13:00Z", "t2": "2023-12-24T14:00Z"},
      {"t": "2023-12-24T14:54Z", "t2": "2023-12-24T20:54Z"},
      {"t": "2023-12-25T07:18Z", "t2": "2023-12-25T08:35Z"}
    ]
  },
  "vconcat": [
    {
      "width": 704, "height": 13,
      "view": {"fill": null, "stroke": null},
      "data": {"name": "strip"},
      "mark": {"type": "rect", "opacity": 0},
      "encoding": {
        "x": {"field": "t", "type": "temporal",
          "scale": {"type": "utc", "nice": false, "domain": [1703030400000, 1703493300000]},
          "axis": {"orient": "top", "title": null, "tickCount": 60,
            "values": [1703042280000, 1703128680000, 1703215080000, 1703301480000, 1703387880000, 1703474280000],
            "labelExpr": "utcday(datum.value) == 1 ? '(Mon)' : '(' + utcFormat(datum.value, '%a') + ') ' + utcFormat(datum.value, '%d.%m.%Y')",
            "labelAlign": "left", "ticks": false, "domain": false, "grid": false, "labelPadding": -3.5,
            "labelFont": "DejaVu Sans Mono", "labelFontSize": 10, "labelColor": "#000000",
            "labelFlush": false, "labelOverlap": false, "labelBound": false}},
        "x2": {"field": "t2"}
      }
    },
    {
      "width": 704, "height": 79,
      "layer": [
        {
          "data": {"name": "strip"},
          "mark": {"type": "rect", "color": "#c8c8c8"},
          "encoding": {
            "x": {"field": "t", "type": "temporal",
              "scale": {"type": "utc", "nice": false, "domain": [1703030400000, 1703493300000]},
              "axis": {"orient": "top", "title": null, "tickCount": 60,
                "values": [1703030400000, 1703052000000, 1703073600000, 1703095200000, 1703116800000, 1703138400000, 1703160000000, 1703181600000, 1703203200000, 1703224800000, 1703246400000, 1703268000000, 1703289600000, 1703311200000, 1703332800000, 1703354400000, 1703376000000, 1703397600000, 1703419200000, 1703440800000, 1703462400000, 1703484000000],
                "labelExpr": "utcFormat(datum.value, '%H')",
                "ticks": false, "domain": false, "grid": true, "gridColor": "#cdcdcd",
                "labelPadding": 1.5, "labelFont": "DejaVu Sans Mono", "labelFontSize": 10, "labelColor": "#000000",
                "labelFlush": false, "labelOverlap": false, "labelBound": false}},
            "x2": {"field": "t2"}
          }
        },
        {
          "data": {"name": "days"},
          "mark": {"type": "rule", "color": "#8c8c8c", "strokeWidth": 1},
          "encoding": {"x": {"field": "t", "type": "temporal"}}
        },
        {
          "data": {"name": "temp"},
          "transform": [{"filter": "indexof(datum.k, 'MOS') >= 0"}],
          "mark": {"type": "line", "strokeWidth": 1.2},
          "encoding": {
            "x": {"field": "t", "type": "temporal"},
            "y": {"field": "v", "type": "quantitative", "scale": {"domain": [-5.67, 15.97], "nice": false, "zero": false},
              "axis": {"title": null, "values": [-4, 0, 4, 8, 12], "tickCount": 20, "format": "d", "ticks": false, "domain": false, "labelOverlap": false, "labelColor": "#8c8c8c", "labelFont": "Liberation Sans", "labelFontSize": 12, "labelPadding": 3, "gridColor": "#8c8c8c"}},
            "detail": {"field": "g"},
            "color": {"field": "k", "type": "nominal", "scale": {"domain": ["T", "T<0", "Td", "Tg", "Tg<0", "T MOS", "Td MOS", "Tg MOS"], "range": ["#ff0000", "#1030ff", "#00a800", "#ff0000", "#1030ff", "#f49a9a", "#8fd88f", "#f49a9a"]}, "legend": null},
            "strokeDash": {"field": "k", "type": "nominal", "scale": {"domain": ["T", "T<0", "Td", "Tg", "Tg<0", "T MOS", "Td MOS", "Tg MOS"], "range": [[1, 0], [1, 0], [1, 0], [4, 3], [4, 3], [1, 0], [1, 0], [4, 3]]}, "legend": null}
          }
        },
        {
          "data": {"name": "temp"},
          "transform": [{"filter": "indexof(datum.k, 'MOS') < 0"}],
          "mark": {"type": "line", "strokeWidth": 1.2},
          "encoding": {
            "x": {"field": "t", "type": "temporal"},
            "y": {"field": "v", "type": "quantitative"},
            "detail": {"field": "g"},
            "color": {"field": "k", "type": "nominal", "legend": null},
            "strokeDash": {"field": "k", "type": "nominal", "legend": null}
          }
        },
        {
          "data": {"name": "tlab"},
          "transform": [{"filter": "datum.kind == 'max'"}],
          "mark": {"type": "text"},
          "encoding": {"x": {"field": "t", "type": "temporal"}, "y": {"datum": 14.6, "type": "quantitative"}, "text": {"field": "label"}}
        },
        {
          "data": {"name": "tlab"},
          "transform": [{"filter": "datum.kind == 'min'"}],
          "mark": {"type": "text"},
          "encoding": {"x": {"field": "t", "type": "temporal"}, "y": {"datum": -4.6, "type": "quantitative"}, "text": {"field": "label"}}
        },
        {
          "data": {"name": "welle"},
          "transform": [{"filter": "datum.wave == '1'"}],
          "mark": {"type": "text", "font": "Liberation Sans", "fontSize": 14, "color": "#1c2535"},
          "encoding": {"x": {"field": "t", "type": "temporal"}, "y": {"datum": 10, "type": "quantitative"}, "text": {"field": "label"}}
        },
        {
          "data": {"name": "welle"},
          "transform": [{"filter": "datum.wave == '2'"}],
          "mark": {"type": "text", "font": "Liberation Sans", "fontSize": 14, "color": "#ff2a2a"},
          "encoding": {"x": {"field": "t", "type": "temporal"}, "y": {"datum": 10.2, "type": "quantitative"}, "text": {"field": "label"}}
        },
        {
          "data": {"name": "ann"},
          "transform": [{"filter": "datum.wave == '1'"}],
          "mark": {"type": "rule", "color": "#1a8cff", "strokeWidth": 2.5, "strokeDash": [8, 4]},
          "encoding": {"x": {"field": "t", "type": "temporal"}}
        },
        {
          "data": {"name": "ann"},
          "transform": [{"filter": "datum.wave == '2'"}],
          "mark": {"type": "rule", "color": "#ff1a1a", "strokeWidth": 2.5, "strokeDash": [9, 4]},
          "encoding": {"x": {"field": "t", "type": "temporal"}}
        }
      ]
    },
    {
      "width": 704, "height": 59,
      "layer": [
        {
          "data": {"name": "strip"},
          "mark": {"type": "rect", "color": "#c8c8c8"},
          "encoding": {
            "x": {"field": "t", "type": "temporal",
              "scale": {"type": "utc", "nice": false, "domain": [1703030400000, 1703493300000]},
              "axis": {"orient": "top", "title": null, "tickCount": 60,
                "values": [1703030400000, 1703052000000, 1703073600000, 1703095200000, 1703116800000, 1703138400000, 1703160000000, 1703181600000, 1703203200000, 1703224800000, 1703246400000, 1703268000000, 1703289600000, 1703311200000, 1703332800000, 1703354400000, 1703376000000, 1703397600000, 1703419200000, 1703440800000, 1703462400000, 1703484000000],
                "labels": false, "ticks": false, "domain": false, "grid": true, "gridColor": "#cdcdcd"}},
            "x2": {"field": "t2"}
          }
        },
        {
          "data": {"name": "days"},
          "mark": {"type": "rule", "color": "#8c8c8c", "strokeWidth": 1},
          "encoding": {"x": {"field": "t", "type": "temporal"}}
        },
        {
          "data": {"name": "pres"},
          "mark": {"type": "line", "strokeWidth": 1.1},
          "encoding": {
            "x": {"field": "t", "type": "temporal"},
            "y": {"field": "v", "type": "quantitative", "scale": {"domain": [989.6, 1025], "nice": false, "zero": false},
              "axis": {"title": null, "values": [1000, 1010, 1020], "tickCount": 20, "format": "d", "ticks": false, "domain": false, "labelOverlap": false, "labelColor": "#8c8c8c", "labelFont": "Liberation Sans", "labelFontSize": 12, "labelPadding": 3, "gridColor": "#8c8c8c"}},
            "color": {"field": "k", "type": "nominal", "scale": {"domain": ["P", "P MOS"], "range": ["#000000", "#8a8a8a"]}, "legend": null}
          }
        },
        {
          "data": {"name": "ann"},
          "transform": [{"filter": "datum.wave == '1'"}],
          "mark": {"type": "rule", "color": "#1a8cff", "strokeWidth": 2.5, "strokeDash": [8, 4]},
          "encoding": {"x": {"field": "t", "type": "temporal"}}
        },
        {
          "data": {"name": "ann"},
          "transform": [{"filter": "datum.wave == '2'"}],
          "mark": {"type": "rule", "color": "#ff1a1a", "strokeWidth": 2.5, "strokeDash": [9, 4]},
          "encoding": {"x": {"field": "t", "type": "temporal"}}
        }
      ]
    },
    {
      "width": 704, "height": 80,
      "layer": [
        {
          "data": {"name": "bands"},
          "mark": {"type": "rect"},
          "encoding": {
            "y": {"field": "lo", "type": "quantitative", "scale": {"domain": [0, 117.5], "nice": false, "zero": false},
              "axis": {"title": null, "values": [20, 40, 60, 80, 100], "tickCount": 20, "format": "d", "ticks": false, "domain": false, "labelOverlap": false, "labelColor": "#8c8c8c", "labelFont": "Liberation Sans", "labelFontSize": 12, "labelPadding": 3, "gridColor": "#8c8c8c", "zindex": 1}},
            "y2": {"field": "hi"},
            "color": {"field": "b", "type": "nominal", "scale": {"domain": ["low", "mid", "high"], "range": ["#d7deb0", "#f6f63e", "#f2914c"]}, "legend": null}
          }
        },
        {
          "data": {"name": "gust"},
          "mark": {"type": "area", "color": "#e4e4e4"},
          "encoding": {
            "x": {"field": "t", "type": "temporal",
              "scale": {"type": "utc", "nice": false, "domain": [1703030400000, 1703493300000]},
              "axis": {"orient": "top", "title": null, "tickCount": 60,
                "values": [1703030400000, 1703052000000, 1703073600000, 1703095200000, 1703116800000, 1703138400000, 1703160000000, 1703181600000, 1703203200000, 1703224800000, 1703246400000, 1703268000000, 1703289600000, 1703311200000, 1703332800000, 1703354400000, 1703376000000, 1703397600000, 1703419200000, 1703440800000, 1703462400000, 1703484000000],
                "labels": false, "ticks": false, "domain": false, "grid": true, "gridColor": "#cdcdcd", "zindex": 1}},
            "y": {"field": "v", "type": "quantitative"},
            "y2": {"datum": 117.5}
          }
        },
        {
          "data": {"name": "strip"},
          "mark": {"type": "rect", "color": "#c8c8c8"},
          "encoding": {"x": {"field": "t", "type": "temporal"}, "x2": {"field": "t2"}}
        },
        {
          "data": {"name": "days"},
          "mark": {"type": "rule", "color": "#8c8c8c", "strokeWidth": 1},
          "encoding": {"x": {"field": "t", "type": "temporal"}}
        },
        {
          "data": {"name": "gust"},
          "mark": {"type": "line", "color": "#72a662", "strokeWidth": 1},
          "encoding": {"x": {"field": "t", "type": "temporal"}, "y": {"field": "v", "type": "quantitative"}}
        },
        {
          "data": {"name": "wind"},
          "mark": {"type": "line", "color": "#d08800", "strokeWidth": 1},
          "encoding": {"x": {"field": "t", "type": "temporal"}, "y": {"field": "v", "type": "quantitative"}}
        },
        {
          "data": {"name": "gmax"},
          "mark": {"type": "text"},
          "encoding": {"x": {"field": "t", "type": "temporal"}, "y": {"datum": 109, "type": "quantitative"}, "text": {"field": "label"}}
        },
        {
          "data": {"name": "ann"},
          "transform": [{"filter": "datum.wave == '1'"}],
          "mark": {"type": "rule", "color": "#1a8cff", "strokeWidth": 2.5, "strokeDash": [8, 4]},
          "encoding": {"x": {"field": "t", "type": "temporal"}}
        },
        {
          "data": {"name": "ann"},
          "transform": [{"filter": "datum.wave == '2'"}],
          "mark": {"type": "rule", "color": "#ff1a1a", "strokeWidth": 2.5, "strokeDash": [9, 4]},
          "encoding": {"x": {"field": "t", "type": "temporal"}}
        }
      ]
    },
    {
      "width": 704, "height": 38,
      "layer": [
        {
          "data": {"name": "rh"},
          "mark": {"type": "area", "color": "#3cc83c", "clip": true},
          "encoding": {
            "x": {"field": "t", "type": "temporal",
              "scale": {"type": "utc", "nice": false, "domain": [1703030400000, 1703493300000]},
              "axis": {"orient": "top", "title": null, "tickCount": 60,
                "values": [1703030400000, 1703052000000, 1703073600000, 1703095200000, 1703116800000, 1703138400000, 1703160000000, 1703181600000, 1703203200000, 1703224800000, 1703246400000, 1703268000000, 1703289600000, 1703311200000, 1703332800000, 1703354400000, 1703376000000, 1703397600000, 1703419200000, 1703440800000, 1703462400000, 1703484000000],
                "labels": false, "ticks": false, "domain": false, "grid": true, "gridColor": "#cdcdcd", "zindex": 1}},
            "y": {"field": "v", "type": "quantitative", "scale": {"domain": [46, 99.2], "nice": false, "zero": false},
              "axis": {"title": null, "values": [60, 80], "tickCount": 20, "format": "d", "ticks": false, "domain": false, "labelOverlap": false, "labelColor": "#8c8c8c", "labelFont": "Liberation Sans", "labelFontSize": 12, "labelPadding": 3, "gridColor": "#8c8c8c", "zindex": 1}},
            "y2": {"datum": 46}
          }
        },
        {
          "data": {"name": "strip"},
          "mark": {"type": "rect", "color": "#c8c8c8"},
          "encoding": {"x": {"field": "t", "type": "temporal"}, "x2": {"field": "t2"}}
        },
        {
          "data": {"name": "days"},
          "mark": {"type": "rule", "color": "#8c8c8c", "strokeWidth": 1},
          "encoding": {"x": {"field": "t", "type": "temporal"}}
        },
        {
          "data": {"name": "ann"},
          "transform": [{"filter": "datum.wave == '1'"}],
          "mark": {"type": "rule", "color": "#1a8cff", "strokeWidth": 2.5, "strokeDash": [8, 4]},
          "encoding": {"x": {"field": "t", "type": "temporal"}}
        },
        {
          "data": {"name": "ann"},
          "transform": [{"filter": "datum.wave == '2'"}],
          "mark": {"type": "rule", "color": "#ff1a1a", "strokeWidth": 2.5, "strokeDash": [9, 4]},
          "encoding": {"x": {"field": "t", "type": "temporal"}}
        },
        {
          "data": {"name": "strip"},
          "mark": {"type": "rule", "color": "#000000", "strokeWidth": 1.5, "clip": false},
          "encoding": {"y": {"datum": 100.6, "type": "quantitative"}}
        },
        {
          "data": {"name": "barbs"},
          "mark": {"type": "point", "shape": "M0,0L0,-2M0,-2L-0.7,-2.35M0,-1.7L-0.7,-2.05", "filled": false, "stroke": "#000000", "strokeWidth": 1, "size": 290, "clip": false},
          "encoding": {
            "x": {"field": "t", "type": "temporal"},
            "y": {"datum": 100.6, "type": "quantitative"},
            "angle": {"field": "d", "type": "quantitative", "scale": {"domain": [0, 360], "range": [0, 360]}}
          }
        },
        {
          "data": {"name": "barbs"},
          "mark": {"type": "point", "shape": "diamond", "filled": true, "color": "#000000", "size": 14, "clip": false},
          "encoding": {"x": {"field": "t", "type": "temporal"}, "y": {"datum": 100.6, "type": "quantitative"}}
        }
      ]
    },
    {
      "width": 704, "height": 39,
      "layer": [
        {
          "data": {"name": "pr"},
          "mark": {"type": "bar", "color": "#1838ee", "stroke": "#000000", "strokeWidth": 0.7},
          "encoding": {
            "x": {"field": "t", "type": "temporal", "timeUnit": "utcyearmonthdatehours",
              "scale": {"type": "utc", "nice": false, "domain": [1703030400000, 1703493300000]},
              "axis": {"orient": "top", "title": null, "tickCount": 60,
                "values": [1703030400000, 1703052000000, 1703073600000, 1703095200000, 1703116800000, 1703138400000, 1703160000000, 1703181600000, 1703203200000, 1703224800000, 1703246400000, 1703268000000, 1703289600000, 1703311200000, 1703332800000, 1703354400000, 1703376000000, 1703397600000, 1703419200000, 1703440800000, 1703462400000, 1703484000000],
                "labels": false, "ticks": false, "domain": false, "grid": true, "gridColor": "#cdcdcd"}},
            "y": {"field": "v", "type": "quantitative", "scale": {"domain": [0, 5.06], "nice": false, "zero": false},
              "axis": {"title": null, "values": [2, 4], "tickCount": 20, "format": "d", "ticks": false, "domain": false, "labelOverlap": false, "labelColor": "#8c8c8c", "labelFont": "Liberation Sans", "labelFontSize": 12, "labelPadding": 3, "gridColor": "#8c8c8c"}}
          }
        },
        {
          "data": {"name": "strip"},
          "mark": {"type": "rect", "color": "#c8c8c8"},
          "encoding": {"x": {"field": "t", "type": "temporal"}, "x2": {"field": "t2"}}
        },
        {
          "data": {"name": "days"},
          "mark": {"type": "rule", "color": "#8c8c8c", "strokeWidth": 1},
          "encoding": {"x": {"field": "t", "type": "temporal"}}
        },
        {
          "data": {"name": "prob"},
          "mark": {"type": "rule", "color": "#d8407a", "strokeWidth": 2},
          "encoding": {"x": {"field": "t", "type": "temporal"}, "x2": {"field": "t2"}, "y": {"datum": 4.9, "type": "quantitative"}}
        },
        {
          "data": {"name": "prlab"},
          "transform": [{"filter": "datum.row == 'top'"}],
          "mark": {"type": "text"},
          "encoding": {"x": {"field": "t", "type": "temporal"}, "y": {"datum": 4.4, "type": "quantitative"}, "text": {"field": "label"}}
        },
        {
          "data": {"name": "prlab"},
          "transform": [{"filter": "datum.row == 'bottom'"}],
          "mark": {"type": "text"},
          "encoding": {"x": {"field": "t", "type": "temporal"}, "y": {"datum": 0.55, "type": "quantitative"}, "text": {"field": "label"}}
        },
        {
          "data": {"name": "ann"},
          "transform": [{"filter": "datum.wave == '1'"}],
          "mark": {"type": "rule", "color": "#1a8cff", "strokeWidth": 2.5, "strokeDash": [8, 4]},
          "encoding": {"x": {"field": "t", "type": "temporal"}}
        },
        {
          "data": {"name": "ann"},
          "transform": [{"filter": "datum.wave == '2'"}],
          "mark": {"type": "rule", "color": "#ff1a1a", "strokeWidth": 2.5, "strokeDash": [9, 4]},
          "encoding": {"x": {"field": "t", "type": "temporal"}}
        }
      ]
    }
  ]
}
